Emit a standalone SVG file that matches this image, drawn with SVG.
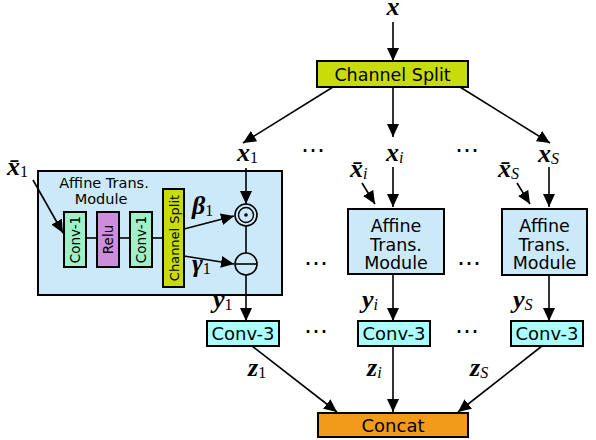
<svg xmlns="http://www.w3.org/2000/svg" width="596" height="440" viewBox="0 0 596 440">
<defs>
<marker id="ah" viewBox="0 0 13 12" refX="13" refY="6" markerWidth="13" markerHeight="12" markerUnits="userSpaceOnUse" orient="auto"><path d="M0,0 L13,6 L0,12 z" fill="#000"/></marker>
<style>
.box{stroke:#000;stroke-width:2}
.ln{stroke:#000;stroke-width:1.6;fill:none}
.arr{stroke:#000;stroke-width:1.6;fill:none;marker-end:url(#ah)}
.t{font-family:"DejaVu Sans",Verdana,sans-serif;fill:#000;text-anchor:middle}
.m{font-family:"Liberation Serif","Times New Roman",serif;font-size:26px;fill:#000}
.mb{font-weight:bold;font-style:italic}
.sub{font-size:16px;font-weight:normal;font-style:normal}
.si{font-size:16px;font-weight:normal;font-style:italic}
.dots{font-family:"DejaVu Serif",serif;font-size:24px;text-anchor:middle;fill:#000}
</style>
</defs>
<rect width="596" height="440" fill="#fff"/>

<g id="label-x"><text class="m mb" x="393" y="15" text-anchor="middle">x</text></g>

<g id="channel-split">
<rect class="box" x="317" y="61" width="151" height="26" fill="#c8dc0c"/>
<text class="t" x="392.5" y="80.5" font-size="17.5">Channel Split</text>
</g>

<g id="labels-row1">
<text class="m" x="237" y="161"><tspan class="mb">x</tspan><tspan class="sub" dy="2">1</tspan></text>
<text class="m" x="386" y="161"><tspan class="mb">x</tspan><tspan class="si" dy="2">i</tspan></text>
<text class="m" x="538" y="162"><tspan class="mb">x</tspan><tspan class="si" dy="2">S</tspan></text>
<text class="dots" x="313" y="158">⋯</text>
<text class="dots" x="467" y="158">⋯</text>
<text class="m" x="7" y="175"><tspan class="mb">x̄</tspan><tspan class="sub" dy="2">1</tspan></text>
<text class="m" x="350" y="177"><tspan class="mb">x̄</tspan><tspan class="si" dy="2">i</tspan></text>
<text class="m" x="498" y="177"><tspan class="mb">x̄</tspan><tspan class="si" dy="2">S</tspan></text>
</g>

<g id="affine-1">
<rect class="box" x="38" y="171" width="244" height="124" fill="#cce9fa"/>
<text class="t" x="104" y="188" font-size="14.5">Affine Trans.</text>
<text class="t" x="101" y="204" font-size="14.5">Module</text>
<g id="conv1-a"><rect class="box" x="64" y="212" width="22" height="55" fill="#9ff0c6" stroke-width="1.6"/><text class="t" font-size="13.5" transform="translate(80,239.5) rotate(-90)">Conv-1</text></g>
<g id="relu"><rect class="box" x="97" y="212" width="22" height="55" fill="#cc8ddc" stroke-width="1.6"/><text class="t" font-size="13.5" transform="translate(113,239.5) rotate(-90)">Relu</text></g>
<g id="conv1-b"><rect class="box" x="130" y="212" width="22" height="55" fill="#9ff0c6" stroke-width="1.6"/><text class="t" font-size="13.5" transform="translate(146,239.5) rotate(-90)">Conv-1</text></g>
<g id="channel-split-v"><rect class="box" x="163" y="189" width="21" height="98" fill="#c8dc0c" stroke-width="1.6"/><text class="t" font-size="13" transform="translate(178.5,238) rotate(-90)">Channel Split</text></g>
<g id="odot"><circle cx="246" cy="215" r="11" fill="none" stroke="#000" stroke-width="1.6"/><circle cx="246" cy="215" r="7.5" fill="none" stroke="#000" stroke-width="1.4"/><circle cx="246" cy="215" r="1.8" fill="#000"/></g>
<g id="oplus"><circle cx="246" cy="264" r="11" fill="none" stroke="#000" stroke-width="1.6"/><line class="ln" x1="235" y1="264" x2="257" y2="264"/></g>
<text class="m" x="192" y="214"><tspan class="mb">β</tspan><tspan class="sub" dy="2">1</tspan></text>
<text class="m" x="192" y="272"><tspan class="mb">γ</tspan><tspan class="sub" dy="2">1</tspan></text>
</g>

<g id="affine-i">
<rect class="box" x="348" y="209" width="96" height="65" fill="#cce9fa"/>
<text class="t" x="396" y="232" font-size="17.5">Affine</text>
<text class="t" x="396" y="250.5" font-size="17.5">Trans.</text>
<text class="t" x="396" y="269" font-size="17.5">Module</text>
</g>

<g id="affine-S">
<rect class="box" x="502" y="209" width="85" height="66" fill="#cce9fa"/>
<text class="t" x="544.5" y="232" font-size="17.5">Affine</text>
<text class="t" x="544.5" y="250.5" font-size="17.5">Trans.</text>
<text class="t" x="544.5" y="269" font-size="17.5">Module</text>
</g>

<g id="dots-row2">
<text class="dots" x="316" y="271">⋯</text>
<text class="dots" x="469" y="271">⋯</text>
</g>

<g id="labels-y">
<text class="m" x="213" y="308"><tspan class="mb">y</tspan><tspan class="sub" dy="2">1</tspan></text>
<text class="m" x="362" y="308"><tspan class="mb">y</tspan><tspan class="si" dy="2">i</tspan></text>
<text class="m" x="513" y="308"><tspan class="mb">y</tspan><tspan class="si" dy="2">S</tspan></text>
</g>

<g id="conv3-1"><rect class="box" x="207" y="321" width="72" height="25" fill="#aaffff"/><text class="t" x="243" y="340" font-size="18">Conv-3</text></g>
<g id="conv3-i"><rect class="box" x="358" y="321" width="72" height="25" fill="#aaffff"/><text class="t" x="394" y="340" font-size="18">Conv-3</text></g>
<g id="conv3-S"><rect class="box" x="511" y="321" width="72" height="25" fill="#aaffff"/><text class="t" x="547" y="340" font-size="18">Conv-3</text></g>

<g id="dots-row3">
<text class="dots" x="316" y="339">⋯</text>
<text class="dots" x="467" y="339">⋯</text>
</g>

<g id="labels-z">
<text class="m" x="248" y="376"><tspan class="mb">z</tspan><tspan class="sub" dy="2">1</tspan></text>
<text class="m" x="367" y="376"><tspan class="mb">z</tspan><tspan class="si" dy="2">i</tspan></text>
<text class="m" x="470" y="376"><tspan class="mb">z</tspan><tspan class="si" dy="2">S</tspan></text>
</g>

<g id="concat"><rect class="box" x="318" y="413" width="150" height="24" fill="#f29a1a"/><text class="t" x="393" y="431.5" font-size="18">Concat</text></g>

<g id="connectors">
<line class="arr" x1="393" y1="22" x2="393" y2="61"/>
<line class="arr" x1="333" y1="87" x2="243" y2="143"/>
<line class="arr" x1="393" y1="87" x2="393" y2="137"/>
<line class="arr" x1="460" y1="87" x2="550" y2="143"/>
<line class="arr" x1="33" y1="180" x2="63" y2="233"/>
<line class="ln" x1="86" y1="238" x2="97" y2="238"/>
<line class="ln" x1="119" y1="238" x2="130" y2="238"/>
<line class="ln" x1="152" y1="238" x2="163" y2="238"/>
<line class="arr" x1="246" y1="168" x2="246" y2="204"/>
<line class="ln" x1="246" y1="226" x2="246" y2="253"/>
<line class="arr" x1="184" y1="229" x2="234" y2="216"/>
<line class="arr" x1="184" y1="256" x2="234" y2="264"/>
<line class="arr" x1="246" y1="275" x2="246" y2="321"/>
<line class="arr" x1="362" y1="183" x2="375" y2="204"/>
<line class="arr" x1="393" y1="167" x2="393" y2="207"/>
<line class="arr" x1="517" y1="183" x2="530" y2="204"/>
<line class="arr" x1="549" y1="167" x2="549" y2="207"/>
<line class="arr" x1="393" y1="274" x2="393" y2="321"/>
<line class="arr" x1="549" y1="275" x2="549" y2="321"/>
<line class="arr" x1="252" y1="346" x2="337" y2="412"/>
<line class="arr" x1="393" y1="346" x2="393" y2="412"/>
<line class="arr" x1="542" y1="346" x2="458" y2="412"/>
</g>
</svg>
